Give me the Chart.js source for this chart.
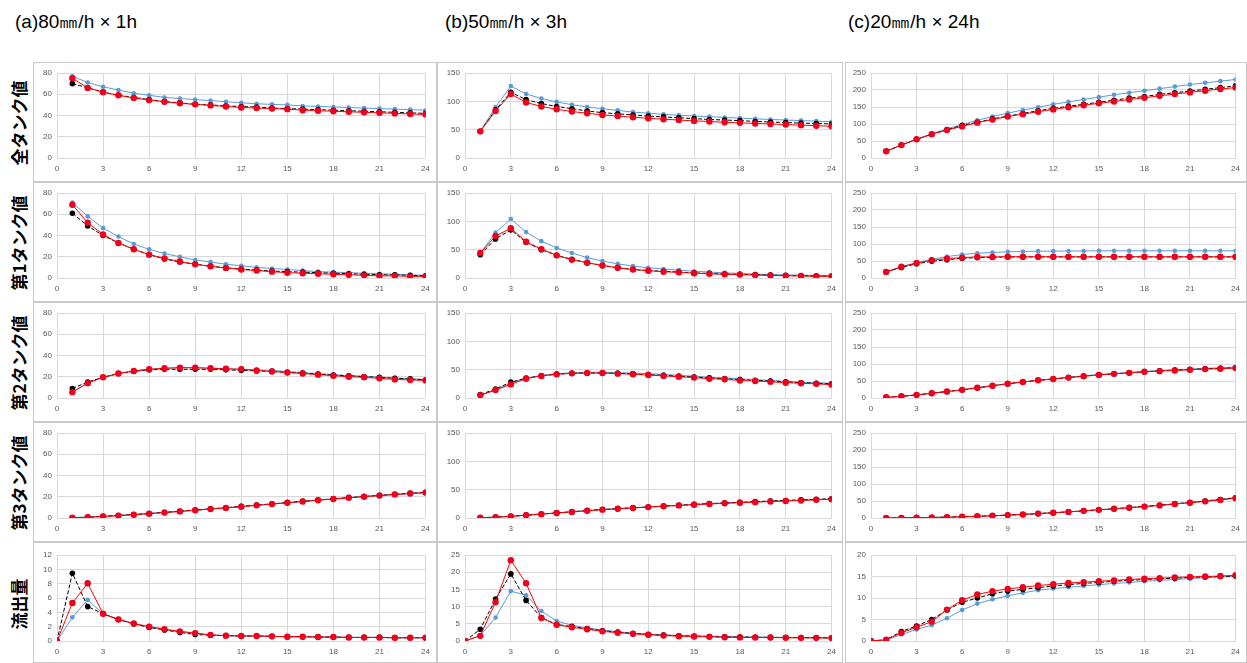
<!DOCTYPE html>
<html><head><meta charset="utf-8">
<script src="https://cdn.jsdelivr.net/npm/chart.js@4.4.0/dist/chart.umd.min.js"></script>
<style>
body{margin:0;background:#fff;width:1247px;height:663px;position:relative;overflow:hidden;font-family:"Liberation Sans",Arial,sans-serif;}
.title{position:absolute;top:9px;font-size:19px;color:#000;white-space:nowrap;}
.rowlab{position:absolute;left:18px;font-family:"Noto Sans CJK JP",sans-serif;font-weight:bold;font-size:17px;color:#000;transform:translate(-50%,-50%) rotate(-90deg);white-space:nowrap;}
.panel{position:absolute;border:1px solid #cacaca;box-sizing:border-box;background:#fff;}
.panel canvas{position:absolute;left:0;top:0;}
</style></head><body>
<script>
// ---- data ----
const titles = ["(a)80㎜/h × 1h", "(b)50㎜/h × 3h", "(c)20㎜/h × 24h"];
const rowLabels = ["全タンク値", "第1タンク値", "第2タンク値", "第3タンク値", "流出量"];
const hours = [1,2,3,4,5,6,7,8,9,10,11,12,13,14,15,16,17,18,19,20,21,22,23,24];
const hours0 = [0,1,2,3,4,5,6,7,8,9,10,11,12,13,14,15,16,17,18,19,20,21,22,23,24];
const xTicks = [0,3,6,9,12,15,18,21,24];
const yMaxA = [80,80,80,80,12], yStepA = [20,20,20,20,2];
const yMaxB = [150,150,150,150,25], yStepB = [50,50,50,50,5];
const yMaxC = [250,250,250,250,20], yStepC = [50,50,50,50,5];

// (a) 80mm/h x 1h
const a1Blue  = [77,71,67,64,61,59,57,56,55,54,53,52,51,50.5,50,49,48.5,48,47.5,47,46.5,46,45.5,45];
const a1Black = [70,66,62,59,57,55,53,52,50.5,50,49,48.5,48,47,46.5,46,45.5,45,44.5,44,43.5,43,42.5,42];
const a1Red   = [75,66,62,59,56.5,54.5,53,51.5,50.5,49.5,48.5,47.5,47,46.5,46,45,44.5,44,43.5,43,42.5,42,41.5,41];
const a2Blue  = [71,58,47,39,32,27,23,20,17,15,13,11.5,10,9,8,7,6,5.5,5,4.5,4,3.5,3,2.5];
const a2Black = [61,49,40,33,27,22,18,15,13,11,9.5,8.5,7.5,6.5,6,5.5,5,4.5,4,3.5,3,3,2.5,2];
const a2Red   = [69,52,41,33,27,22,18.5,15.5,13,11,9.5,8,7,6,5,4.5,4,3.5,3,2.5,2,2,1.5,1.5];
const a3Blue  = [6,14,19.5,23,25.5,27,28,28.5,28.5,28,27.5,27,26.5,26,25,24,23,22,21,20.5,19.5,19,18,17.5];
const a3Black = [9,15,19.5,23,25,26.5,27,27,27,27,26.5,26,25.5,25,24,23.5,22.5,21.5,21,20,19.5,18.5,18,17];
const a3Red   = [5.5,14,19.5,23,25.5,27,28,28.5,28.5,28,27.5,27,26,25,24,23,22,21,20,19.5,18.5,17.5,17,16.5];
const a4Blue  = [0.3,0.8,1.5,2.3,3.2,4.2,5.2,6.3,7.4,8.5,9.6,10.8,12,13.2,14.4,15.6,16.8,18,19.1,20.2,21.2,22.2,23.1,24];
const a4Black = [0.3,0.8,1.6,2.4,3.3,4.3,5.3,6.4,7.5,8.6,9.7,10.9,12.1,13.3,14.5,15.7,16.9,18.1,19.2,20.3,21.3,22.3,23.2,24.1];
const a4Red   = [0.2,0.7,1.4,2.2,3.1,4.1,5.1,6.2,7.3,8.4,9.5,10.7,11.9,13.1,14.3,15.5,16.7,17.9,19,20.1,21.1,22.1,23,23.9];
const a5Blue  = [0,3.3,5.75,3.8,3.0,2.4,1.95,1.6,1.3,1.1,0.85,0.75,0.7,0.7,0.65,0.6,0.6,0.55,0.55,0.5,0.5,0.5,0.45,0.45,0.45];
const a5Black = [0,9.45,4.8,3.8,3.0,2.4,1.9,1.55,1.2,0.9,0.8,0.75,0.7,0.7,0.65,0.6,0.6,0.55,0.55,0.5,0.5,0.5,0.45,0.45,0.45];
const a5Red   = [0,5.3,8.05,3.8,3.0,2.45,2.0,1.65,1.35,1.1,0.85,0.75,0.7,0.7,0.65,0.6,0.6,0.55,0.55,0.5,0.5,0.5,0.45,0.45,0.45];

// (b) 50mm/h x 3h
const b1Blue  = [47,90,127,113,105,99,94,90,87,84,81,79,77,75.5,74,73,71.5,70.5,69,68,67,66,65,64];
const b1Black = [47,85,116,103,96,91,87,83,80,78,76,74,72.5,71,69.5,68,67,66,64.5,63.5,62.5,61.5,61,60];
const b1Red   = [47,83,113,98,91,86,82,79,76,74,72,70,68.5,67,65.5,64.5,63,62,61,60,59,58,57,56];
const b2Blue  = [44,80,104,81,65,53,44,36,30,25,21,18,16,14,12,10.5,9,8,7,6,5.5,5,4.5,4];
const b2Black = [41,69,85,63,50,40,33,27,22,18,15,13,12,10.5,9,8,7,6.5,6,5,4.5,4,3.5,3];
const b2Red   = [44,74,88,64,51,40,32,27,22,18,15,13,11,10,8.5,7.5,6.5,6,5,4.5,4,3.5,3,3];
const b3Blue  = [5,14,26,35,40,43,44.5,45.5,45.5,45,44,43,41.5,40,38.5,37,35.5,34,32.5,31,29.5,28,27,26];
const b3Black = [6,16,28,35,39,42,43.5,44,44,43.5,42.5,41,40,38.5,37,35.5,34,32.5,31,30,28.5,27,26,25];
const b3Red   = [5,14,24,34,39,42,43.5,44,44,43,42,40.5,39,37.5,36,34,33,31,30,28.5,27,26,25,23.5];
const b4Blue  = [0.5,1.5,3,5,7,9,11,13,15,16.5,18,19.5,21,22.5,24,25,26.5,27.5,28.5,29.5,30.5,31.5,32.5,33.5];
const b4Black = [0.5,1.5,3,5,7,9,11,13,15,16.5,18,19.5,21,22.5,24,25.5,26.5,27.5,29,30,31,32,33,34];
const b4Red   = [0.5,1.4,2.8,4.8,6.8,8.8,10.8,12.8,14.7,16.2,17.7,19.2,20.7,22.2,23.5,24.7,26,27,28,29,30,31,32,33];
const b5Blue  = [0,1.6,6.8,14.5,13.3,8.7,5.8,4.6,3.8,3.2,2.7,2.3,2.0,1.8,1.6,1.5,1.4,1.3,1.2,1.15,1.1,1.05,1.0,1.0,0.95];
const b5Black = [0,3.4,12.2,19.5,11.8,6.8,4.8,4.2,3.6,3.0,2.6,2.2,1.9,1.7,1.5,1.4,1.3,1.2,1.15,1.1,1.05,1.0,1.0,0.95,0.9];
const b5Red   = [0,1.5,11.3,23.5,16.8,6.7,4.7,4.0,3.4,2.8,2.4,2.1,1.8,1.6,1.4,1.3,1.2,1.1,1.05,1.0,1.0,0.95,0.9,0.9,0.85];

// (c) 20mm/h x 24h
const c1Blue  = [20,38,55,71,86,98,111,122,132,141,149,158,165,172,179,186,192,198,204,210,216,221,226,231];
const c1Black = [20,38,55,70,83,96,105,115,123,131,139,146,152,158,164,170,176,181,187,192,197,202,207,212];
const c1Red   = [20,38,55,70,82,93,104,113,122,129,136,143,149,155,161,166,172,177,183,188,193,198,203,207];
const c2Blue  = [18,33,45,55,63,69,73,75,77,78,79,79,79.5,79.5,80,80,80,80,80,80,80,80,80,80];
const c2Black = [18,31,42,49,54,58,60,61,62,62,62,62,62,62,62,62,62,62,62,62,62,62,62,62];
const c2Red   = [18,33,44,52,57,60,62,62,62.5,62.5,62.5,62.5,62.5,62.5,62.5,62.5,62.5,62.5,62.5,62.5,62.5,62.5,62.5,62.5];
const c3Blue  = [2,5,9,14,19,24,30,36,42,47,52,56,61,65,69,72,75,78,81,83,85,87,89,91];
const c3Black = [2,5,9,14,19,24,30,36,42,47,52,56,60,64,68,71,74,77,80,82,84,86,87,89];
const c3Red   = [2,5,9,14,19,24,30,36,42,47,52,56,60,64,68,71,74,77,79,81,83,85,86,88];
const c4Blue  = [0.2,0.5,1,1.5,2.5,3.5,5,6.5,8.5,10.5,13,15.5,18,21,24,27,30.5,34,37.5,41.5,45.5,50,54.5,60];
const c4Black = [0.2,0.5,1,1.5,2.5,3.5,5,6.5,8.5,10.5,13,15.5,18,21,24,27,30.5,34,37.5,41.5,45.5,50,54.5,59.5];
const c4Red   = [0.2,0.5,1,1.5,2.5,3.5,5,6.5,8.5,10.5,13,15.5,18,21,24,27,30,33.5,37,41,45,49,53,58];
const c5Blue  = [0,0.2,1.5,2.7,3.7,5.3,7.2,8.7,9.7,10.5,11.2,11.8,12.2,12.5,12.8,13.1,13.4,13.6,13.9,14.1,14.3,14.5,14.7,14.9,15.0];
const c5Black = [0,0.3,2.2,3.5,5.0,7.2,9.0,10.0,11.0,11.6,12.0,12.4,12.8,13.1,13.4,13.6,13.9,14.1,14.3,14.5,14.6,14.8,14.9,15.0,15.1];
const c5Red   = [0,0.3,1.9,3.2,4.5,7.3,9.5,10.8,11.6,12.1,12.5,12.9,13.2,13.5,13.7,13.9,14.1,14.3,14.5,14.6,14.8,14.9,15.0,15.1,15.3];

// ---- layout ----
const colX = [33, 437, 845], colW = [404, 406, 402], yAxisW = [23, 27, 25], padRight = [9, 10, 9];
const rowY = [62, 182, 302, 422, 542], rowH = [120, 120, 120, 120, 121];
const titleX = [15, 445, 848];

const series = [
  [[a1Blue,a1Black,a1Red],[a2Blue,a2Black,a2Red],[a3Blue,a3Black,a3Red],[a4Blue,a4Black,a4Red],[a5Blue,a5Black,a5Red]],
  [[b1Blue,b1Black,b1Red],[b2Blue,b2Black,b2Red],[b3Blue,b3Black,b3Red],[b4Blue,b4Black,b4Red],[b5Blue,b5Black,b5Red]],
  [[c1Blue,c1Black,c1Red],[c2Blue,c2Black,c2Red],[c3Blue,c3Black,c3Red],[c4Blue,c4Black,c4Red],[c5Blue,c5Black,c5Red]]
];
const yMax = [yMaxA, yMaxB, yMaxC], yStep = [yStepA, yStepB, yStepC];

titles.forEach((t, i) => {
  const d = document.createElement('div');
  d.className = 'title'; d.textContent = t; d.style.left = titleX[i] + 'px';
  document.body.appendChild(d);
});
rowLabels.forEach((t, r) => {
  const d = document.createElement('div');
  d.className = 'rowlab'; d.textContent = t;
  d.style.top = (rowY[r] + rowH[r] / 2 + 1) + 'px';
  document.body.appendChild(d);
});

function toPts(xs, ys) { return ys.map((v, i) => ({ x: xs[i], y: v })); }

for (let c = 0; c < 3; c++) {
  for (let r = 0; r < 5; r++) {
    const p = document.createElement('div');
    p.className = 'panel';
    p.style.left = colX[c] + 'px'; p.style.top = rowY[r] + 'px';
    p.style.width = colW[c] + 'px'; p.style.height = rowH[r] + 'px';
    const cv = document.createElement('canvas');
    cv.width = colW[c] - 2; cv.height = rowH[r] - 2;
    cv.style.width = cv.width + 'px'; cv.style.height = cv.height + 'px';
    p.appendChild(cv);
    document.body.appendChild(p);
    const [sb, sk, sr] = series[c][r];
    const xs = sb.length === 25 ? hours0 : hours;
    const tickX = r === 4 ? 21 : 23;
    new Chart(cv, {
      type: 'line',
      data: {
        datasets: [
          { data: toPts(xs, sb), borderColor: '#5b9bd5', backgroundColor: '#5b9bd5', borderWidth: 1,
            pointRadius: 2.3, pointBorderWidth: 0, pointStyle: 'circle', order: 3 },
          { data: toPts(xs, sk), borderColor: '#000', backgroundColor: '#000', borderWidth: 1, borderDash: [4, 2],
            pointRadius: 2.8, pointBorderWidth: 0, order: 2 },
          { data: toPts(xs, sr), borderColor: '#ff0000', backgroundColor: '#f0001c', borderWidth: 1,
            pointRadius: 3.2, pointBorderWidth: 0, order: 1 }
        ]
      },
      options: {
        responsive: false, animation: false,
        plugins: { legend: { display: false }, tooltip: { enabled: false } },
        layout: { padding: { top: r === 4 ? 12 : 10, right: padRight[c], bottom: 0, left: 0 } },
        scales: {
          x: {
            type: 'linear', min: 0, max: 24,
            afterBuildTicks: s => { s.ticks = xTicks.map(v => ({ value: v })); },
            afterFit: s => { s.height = tickX; },
            ticks: { color: '#595959', font: { size: 8, family: 'Liberation Sans' }, padding: 6, maxRotation: 0 },
            grid: { color: '#d9d9d9', drawTicks: false },
            border: { display: false }
          },
          y: {
            min: 0, max: yMax[c][r],
            ticks: { stepSize: yStep[c][r], color: '#595959', font: { size: 8, family: 'Liberation Sans' }, padding: 5 },
            afterFit: s => { s.width = yAxisW[c]; },
            grid: { color: '#d9d9d9', drawTicks: false },
            border: { display: false }
          }
        }
      }
    });
  }
}
</script>
</body></html>
